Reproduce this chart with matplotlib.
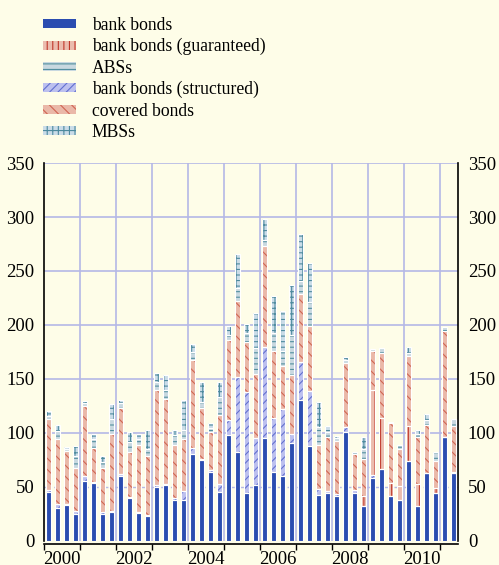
import numpy as np
import matplotlib
matplotlib.use("Agg")
import matplotlib.pyplot as plt
from matplotlib.patches import Patch

plt.rcParams['font.family'] = ['Liberation Serif', 'DejaVu Serif']
plt.rcParams['hatch.linewidth'] = 0.8

# quarterly issuance, 2000 Q1 .. 2011 Q2
quarters = [f"{y}Q{q}" for y in range(2000, 2012) for q in range(1, 5)][:46]

bank_bonds = [45.5, 31, 33.5, 25, 55.5, 54, 25, 27, 60.5, 40, 25.5, 23.5,
              50, 52, 38, 38, 80.5, 75, 64, 45.5, 98, 82.5, 44, 52,
              95, 64, 60, 90.5, 131, 88, 42.5, 44, 42, 100.5, 44, 32,
              58, 66.5, 42, 38, 74.5, 32, 62.5, 44, 96.5, 62.5]
structured = [1.5, 3, 1, 2.5, 4.5, 1, 1.5, 1, 1.5, 1, 1.5, 0.5,
              1.5, 1, 1.5, 8, 5.5, 1, 1.5, 7, 14, 69.5, 94, 43.5,
              85, 49.5, 62, 9, 35, 51, 6, 2.5, 1.5, 5.5, 3, 0,
              3, 0, 0, 0, 0, 0, 0, 0, 0, 0]
guaranteed = [0, 0, 0, 0, 0, 0, 0, 0, 0, 0, 0, 0,
              0, 0, 0, 0, 0, 0, 0, 0, 0, 0, 0, 0,
              0, 0, 0, 0, 0, 0, 0, 0, 0, 0, 0, 9.5,
              79, 47, 12, 12.5, 32, 20.5, 0, 5.5, 0, 1.5]
covered = [66, 60.5, 48.5, 40, 65, 31, 41, 71, 61.5, 41.5, 62, 54.5,
           88, 78.5, 49.5, 48.5, 81.5, 47, 35.5, 64, 74, 70.5, 46.5, 59,
           93.5, 62.5, 40, 54, 62.5, 60, 40.5, 49.5, 49.5, 58.5, 33.5, 34,
           36, 60.5, 55, 34.5, 65, 44, 44.5, 25, 98, 42.5]
abss = [3, 7.5, 2, 11.5, 3, 8, 6, 14, 4, 9, 5.5, 7,
        8, 8, 9, 8, 7.5, 6, 4, 17, 4.5, 11.5, 8, 24,
        5.5, 17, 14, 37, 12.5, 22.5, 17, 5, 2, 3, 2, 10,
        2, 4.5, 1, 4, 3, 3, 5, 8, 4, 6.5]
mbss = [4, 5, 2, 8.5, 2, 5, 5, 14, 3.5, 9, 4.5, 17.5,
        8, 14, 5, 28, 7.5, 18.5, 4, 14, 9, 31.5, 8.5, 32.5,
        19, 34, 37, 46.5, 43, 36, 23, 5.5, 2, 3, 0, 11,
        0, 0, 0, 0, 5.5, 3, 6, 0, 0, 0]

year_labels = ['2000', '2002', '2004', '2006', '2008', '2010']

bg = '#fefde8'
grid_col = '#b4b8e6'

# (label, values, face, hatch colour, hatch)
series = [
    ('bank bonds', bank_bonds, '#2b4db0', '#2b4db0', None),
    ('bank bonds (structured)', structured, '#bcc0ef', '#6270d0', '////'),
    ('bank bonds (guaranteed)', guaranteed, '#ebbcae', '#c0382a', '|||'),
    ('covered bonds', covered, '#eab8a8', '#d06452', '\\\\\\'),
    ('ABSs', abss, '#c8d8e0', '#528f9f', '---'),
    ('MBSs', mbss, '#cadce8', '#4d8a9e', '+++'),
]

fig = plt.figure(figsize=(4.99, 5.65), dpi=100, facecolor=bg)
ax = fig.add_axes([0.0882, 0.0425, 0.8297, 0.669], facecolor=bg)

x = np.arange(len(quarters)) + 0.5
w = 0.58
bottom = np.zeros(len(quarters))
handles = {}
for label, vals, face, hcol, hatch in series:
    vals = np.array(vals, dtype=float)
    ax.bar(x, vals, w, bottom=bottom, color=face, edgecolor=hcol,
           linewidth=0, hatch=hatch, zorder=3)
    ax.bar(x, vals, w, bottom=bottom, facecolor='none', edgecolor='white',
           linewidth=0.8, zorder=4)
    bottom += vals
    handles[label] = Patch(facecolor=face, edgecolor=hcol, linewidth=0, hatch=hatch)

ax.set_xlim(0, 46)
ax.set_ylim(0, 350)

# grid: year boundaries and horizontal levels
for xv in range(4, 46, 4):
    ax.axvline(xv, color=grid_col, lw=1.2, zorder=1)
for yv in range(100, 351, 50):
    ax.axhline(yv, color=grid_col, lw=1.2, zorder=1)
ax.axhline(50, color=grid_col, lw=1.0, ls=(0, (4, 3)), zorder=1)

ax.set_yticks(range(0, 351, 50))
ax.tick_params(axis='y', length=0, labelsize=13.5, pad=7,
               labelleft=True, labelright=True)
ax.set_xticks(range(0, 46, 4))
ax.set_xticklabels([])
ax.set_xticks([2, 10, 18, 26, 34, 42], minor=True)
ax.set_xticklabels(year_labels, minor=True)
ax.tick_params(axis='x', which='major', length=4, width=1, direction='out')
ax.tick_params(axis='x', which='minor', length=0, labelsize=13.5, pad=5)

ax.spines['top'].set_visible(False)
ax.spines['bottom'].set_position(('outward', 2))
for s in ['left', 'right', 'bottom']:
    ax.spines[s].set_linewidth(1.2)
    ax.spines[s].set_color('black')

order = ['bank bonds', 'bank bonds (guaranteed)', 'ABSs',
         'bank bonds (structured)', 'covered bonds', 'MBSs']
fig.legend([handles[k] for k in order], order, loc='upper left',
           bbox_to_anchor=(0.086, 0.970), frameon=False, fontsize=12.7,
           handlelength=1.875, handleheight=0.4, labelspacing=0.24,
           handletextpad=0.9, borderpad=0, borderaxespad=0)

fig.savefig('out.png', dpi=100, facecolor=bg)
